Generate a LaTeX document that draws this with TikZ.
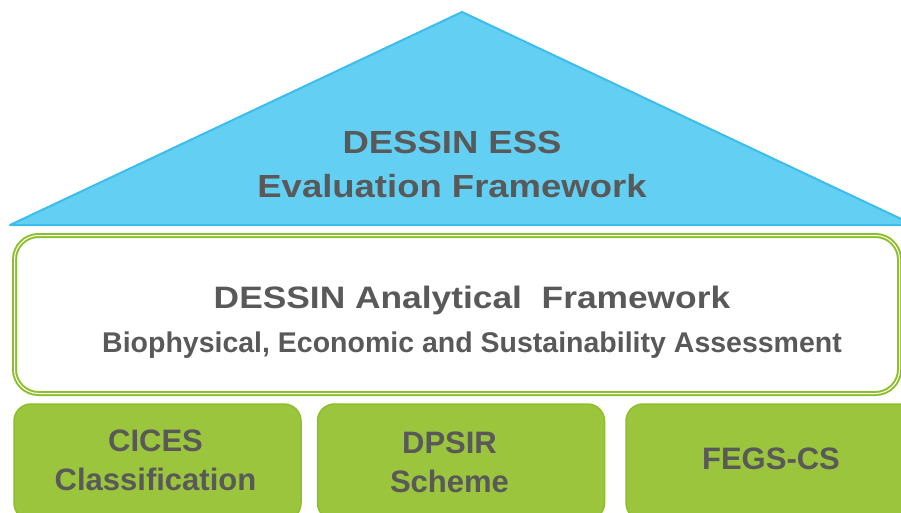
\documentclass[tikz,border=0pt]{standalone}
\usepackage{fontspec}
\setmainfont{Liberation Sans}
\newfontfamily\widefont[FakeStretch=1.14]{Liberation Sans}
\usepackage{xcolor}
\usepackage{tikz}
\usetikzlibrary{positioning}
\definecolor{essblue}{HTML}{63CFF2}
\definecolor{essedge}{HTML}{3DBDEB}
\definecolor{fwgreen}{HTML}{9BC53C}
\definecolor{fwedge}{HTML}{8CBF2A}
\definecolor{fwtext}{HTML}{595959}
\tikzstyle{tri} = [fill=essblue, draw=essedge, line width=2pt, line join=round]
\tikzstyle{abox} = [rectangle, rounded corners=24pt, minimum width=885pt, minimum height=158pt, draw=fwedge, double=white, double distance=1pt, line width=2pt]
\tikzstyle{gbox} = [rectangle, rounded corners=17pt, minimum width=287pt, minimum height=116pt, draw=fwedge, fill=fwgreen, line width=1.5pt]
\tikzstyle{ttl} = [text=fwtext, align=center, inner sep=0pt, font=\widefont\bfseries\fontsize{32}{44}\selectfont]
\tikzstyle{sttl} = [text=fwtext, inner sep=0pt, font=\widefont\bfseries\fontsize{31}{40}\selectfont]
\tikzstyle{sub} = [text=fwtext, inner sep=0pt, font=\bfseries\fontsize{28.5}{34}\selectfont]
\tikzstyle{btxt} = [text=fwtext, align=center, inner sep=0pt, font=\bfseries\fontsize{31}{39}\selectfont]

\begin{document}
\begin{tikzpicture}[x=1pt, y=-1pt]
\useasboundingbox (0,0) rectangle (901,513);
\clip (0,0) rectangle (901,513);

% roof
\draw [tri] (10,225) -- (462,12) -- (914,225) -- cycle;
\node (ess) [ttl] at (452,164) {DESSIN ESS\\Evaluation Framework};

% analytical framework
\node (afw) [abox] at (457,314.5) {};
\node (afwt) [sttl, anchor=base] at (472,308.5) {DESSIN Analytical~ Framework};
\node (afws) [sub, anchor=base] at (472,352) {Biophysical, Economic and Sustainability Assessment};

% pillars
\node (cices) [gbox] at (157.5,462) {};
\node (dpsir) [gbox, right=15pt of cices] {};
\node (fegs) [gbox, right=20pt of dpsir, minimum width=290pt] {};

\node (cicest) [btxt] at ([xshift=-2pt, yshift=1.5pt]cices.center) {CICES\\Classification};
\node (dpsirt) [btxt] at ([xshift=-11.5pt]dpsir.center) {DPSIR\\Scheme};
\node (fegst) [btxt] at ([yshift=3pt]fegs.center) {FEGS-CS};

\end{tikzpicture}
\end{document}
